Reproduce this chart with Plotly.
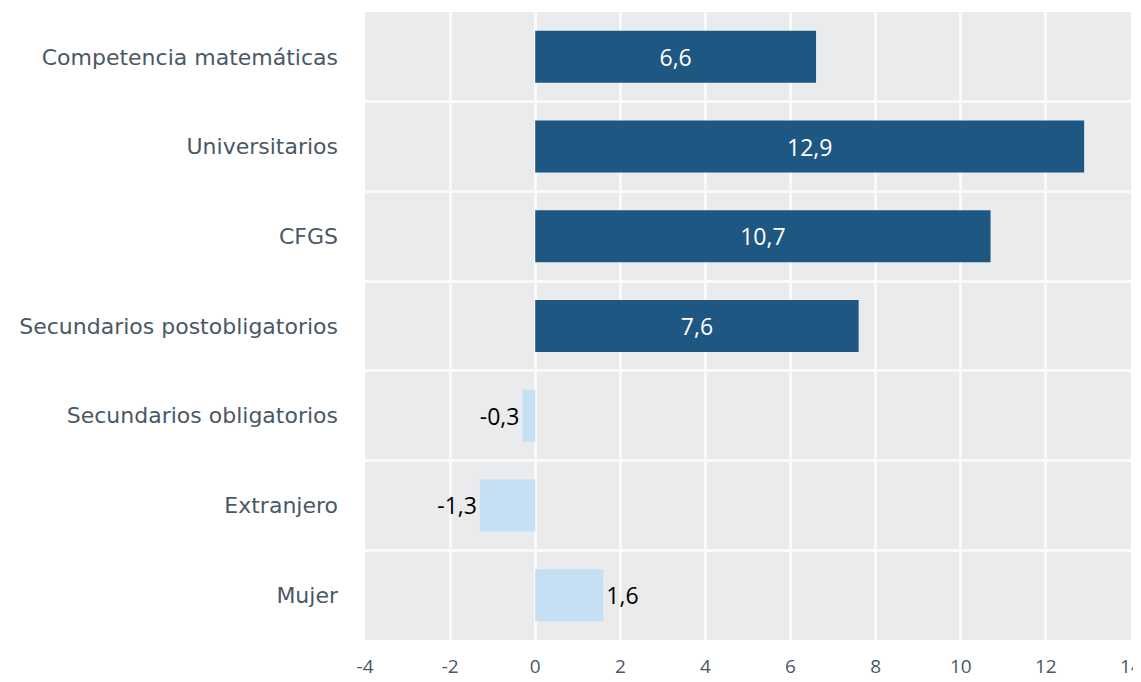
import plotly.graph_objects as go

categories = ["Mujer", "Extranjero", "Secundarios obligatorios", "Secundarios postobligatorios",
              "CFGS", "Universitarios", "Competencia matemáticas"]
values = [1.6, -1.3, -0.3, 7.6, 10.7, 12.9, 6.6]
x_ticks = [-4, -2, 0, 2, 4, 6, 8, 10, 12, 14]

dark = "#1f5783"
light = "#c5e0f2"
colors = [dark if v > 5 else light for v in values]
positions = ["inside" if v > 5 else "outside" for v in values]
labels = [f"{v:.1f}".replace(".", ",") for v in values]

fig = go.Figure(go.Bar(
    y=categories, x=values, orientation="h",
    marker=dict(color=colors, line=dict(width=0)),
    text=labels, textposition=positions, insidetextanchor="middle",
    outsidetextfont=dict(family="Open Sans", size=23, color="black"),
    insidetextfont=dict(family="Open Sans", size=23, color="white"),
    cliponaxis=False, width=0.58,
))

fig.update_layout(
    width=1133, height=674,
    margin=dict(l=357, r=10, t=4, b=42),
    paper_bgcolor="white", plot_bgcolor="#eaebed",
    font=dict(family="DejaVu Sans", size=19, color="#4a5866"),
    showlegend=False,
)
fig.update_xaxes(range=[-4, 14.001], tickvals=x_ticks, ticktext=[str(t) for t in x_ticks],
                 showgrid=True, gridcolor="#fafafa", gridwidth=3, zeroline=False,
                 ticks="", showline=False, ticklabelstandoff=13, ticklabeloverflow="allow",
                 tickfont=dict(family="Open Sans", size=19, color="#4a5866"), automargin=False)
fig.update_yaxes(categoryorder="array", categoryarray=categories, tickson="boundaries",
                 showgrid=True, gridcolor="#fafafa", gridwidth=3, zeroline=False,
                 ticks="", showline=False, ticklabelstandoff=26,
                 tickfont=dict(family="DejaVu Sans", size=22, color="#4a5866"), automargin=False)

fig.write_html("out.html")
